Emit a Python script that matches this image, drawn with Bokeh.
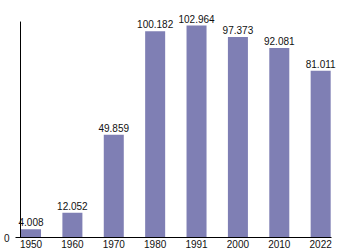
from bokeh.plotting import figure
from bokeh.models import ColumnDataSource, LabelSet, FixedTicker, Range1d
from bokeh.core.properties import value
from bokeh.embed import file_html
from bokeh.resources import INLINE

years = ["1950", "1960", "1970", "1980", "1991", "2000", "2010", "2022"]
population = [4008, 12052, 49859, 100182, 102964, 97373, 92081, 81011]

labels = ["{:,}".format(v).replace(",", ".") for v in population]
xs = list(range(len(years)))

src = ColumnDataSource(dict(x=xs, top=population, label=labels))

FONT = "Arial"
BAR = "#7f7fb4"
AXIS_TOP = 104900          # value at the top end of the drawn y axis line
X_START, X_AXIS_END, X_END = -0.375, 7.266, 7.6
Y_AXIS_X = -0.254          # where the vertical axis line stands

p = figure(width=350, height=250, output_backend="svg",
           toolbar_location=None, x_range=Range1d(X_START, X_END),
           y_range=Range1d(0, 112700),
           min_border_left=15, min_border_right=5, min_border_top=5,
           min_border_bottom=0)
p.outline_line_color = None
p.xgrid.visible = False
p.ygrid.visible = False
p.background_fill_color = "white"
p.border_fill_color = "white"

p.vbar(x="x", top="top", width=0.4836, bottom=0, source=src,
       fill_color=BAR, line_color=None)

p.segment(x0=[Y_AXIS_X], y0=[0], x1=[Y_AXIS_X], y1=[AXIS_TOP],
          line_color="black", line_width=1)

p.add_layout(LabelSet(x="x", y="top", text="label", source=src,
                      text_align="center", text_baseline="bottom",
                      y_offset=3, text_font=value(FONT),
                      text_font_size=value("10px"),
                      text_color=value("#111111")))

xa = p.xaxis[0]
xa.ticker = FixedTicker(ticks=xs)
xa.bounds = (X_START, X_AXIS_END)
xa.major_label_overrides = {i: y for i, y in zip(xs, years)}
xa.major_tick_line_color = None
xa.minor_tick_line_color = None
xa.major_tick_out = 0
xa.major_tick_in = 0
xa.major_label_standoff = 2
xa.major_label_text_font = FONT
xa.major_label_text_font_size = "10px"
xa.major_label_text_color = "#111111"
xa.axis_line_color = "black"
xa.axis_line_width = 1

ya = p.yaxis[0]
ya.ticker = FixedTicker(ticks=[0])
ya.major_tick_line_color = None
ya.minor_tick_line_color = None
ya.major_tick_out = 0
ya.major_tick_in = 0
ya.axis_line_color = None
ya.major_label_standoff = 6
ya.major_label_text_font = FONT
ya.major_label_text_font_size = "10px"
ya.major_label_text_color = "#111111"

open("out.html", "w").write(file_html(p, INLINE))
